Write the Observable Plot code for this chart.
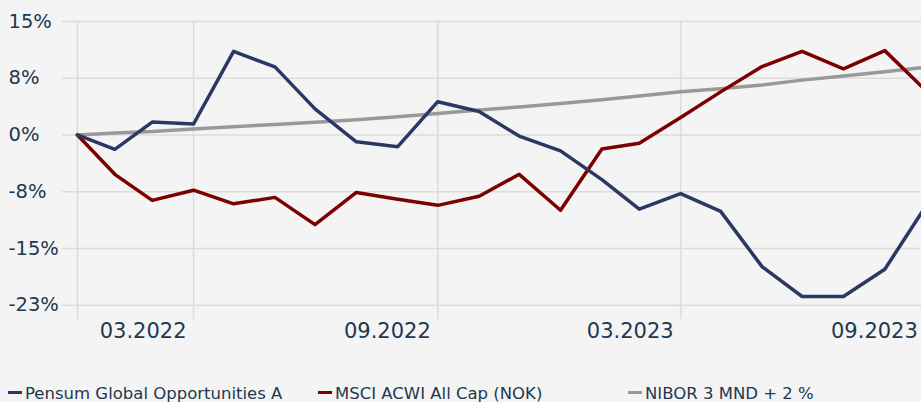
<!DOCTYPE html>
<html>
<head>
<meta charset="utf-8">
<script src="https://cdn.jsdelivr.net/npm/d3@7"></script>
<script src="https://cdn.jsdelivr.net/npm/@observablehq/plot@0.6"></script>
<style>
  html, body { margin: 0; padding: 0; background: #f4f4f4; overflow: hidden; }
  #wrap { position: relative; width: 921px; height: 402px; font-family: "DejaVu Sans", sans-serif; color: #22384f; }
  #legend { position: absolute; left: 0; top: 384px; width: 921px; height: 20px; font-size: 16.5px; line-height: 20px; }
  .item { position: absolute; top: 0; white-space: nowrap; }
  .sw { position: absolute; left: 0; top: 7px; width: 14px; height: 3px; }
  .lbl { position: absolute; left: 17px; top: 0; }
</style>
</head>
<body>
<div id="wrap">
  <div id="chart"></div>
  <div id="legend"></div>
</div>
<script>
const dates = ["2022-01-03","2022-01-31","2022-02-28","2022-03-31","2022-04-30","2022-05-31","2022-06-30","2022-07-31","2022-08-31","2022-09-30","2022-10-31","2022-11-30","2022-12-31","2023-01-31","2023-02-28","2023-03-31","2023-04-30","2023-05-31","2023-06-30","2023-07-31","2023-08-31","2023-09-30"];
const pensum = [0, -1.9, 1.7, 1.45, 11.05, 9.0, 3.45, -0.9, -1.55, 4.4, 3.1, -0.15, -2.1, -5.9, -9.8, -7.75, -10.1, -17.4, -21.35, -21.35, -17.75, -9.6];
const msci = [0, -5.2, -8.65, -7.3, -9.1, -8.25, -11.85, -7.6, -8.5, -9.3, -8.1, -5.2, -9.95, -1.85, -1.1, 2.3, 5.7, 9.05, 11.05, 8.75, 11.15, 6.0];
const nibor = [0, 0.25, 0.45, 0.8, 1.1, 1.4, 1.68, 2.0, 2.4, 2.85, 3.3, 3.7, 4.15, 4.65, 5.15, 5.7, 6.1, 6.6, 7.25, 7.8, 8.35, 8.95];

const seriesNames = ["Pensum Global Opportunities A", "MSCI ACWI All Cap (NOK)", "NIBOR 3 MND + 2 %"];
const seriesColors = ["#2b3864", "#7d0000", "#999999"];

const yTicks = [15, 7.5, 0, -7.5, -15, -22.5];
const yTickLabels = ["15%", "8%", "0%", "-8%", "-15%", "-23%"];
const xTicks = ["2022-03-31", "2022-09-30", "2023-03-31", "2023-09-30"];
const xTickLabels = ["03.2022", "09.2022", "03.2023", "09.2023"];

const parse = s => new Date(s + "T00:00:00Z");
const mk = vals => dates.map((d, i) => ({date: parse(d), value: vals[i]}));
const rowsP = mk(pensum), rowsM = mk(msci), rowsN = mk(nibor);
const xTickRows = xTicks.map((d, i) => ({date: parse(d), label: xTickLabels[i]}));
const yTickRows = yTicks.map((v, i) => ({v, label: yTickLabels[i]}));

const grid = "#dcdcdc";
const textColor = "#22384f";

const chart = Plot.plot({
  width: 921,
  height: 345,
  marginLeft: 62,
  marginRight: 0,
  marginTop: 21,
  marginBottom: 26,
  style: {background: "#f4f4f4", fontFamily: "DejaVu Sans, sans-serif", color: textColor, overflow: "hidden"},
  x: {type: "utc", domain: [new Date("2021-12-22T19:00:00Z"), new Date("2023-09-27T12:00:00Z")], axis: null},
  y: {domain: [-24.39, 15], axis: null},
  marks: [
    Plot.ruleY(yTicks, {stroke: grid, strokeWidth: 1.6}),
    Plot.ruleX([parse(dates[0]), ...xTickRows.map(d => d.date)], {stroke: grid, strokeWidth: 1.6}),
    Plot.line(rowsN, {x: "date", y: "value", stroke: seriesColors[2], strokeWidth: 3.5, clip: true}),
    Plot.line(rowsM, {x: "date", y: "value", stroke: seriesColors[1], strokeWidth: 3.5, clip: true}),
    Plot.line(rowsP, {x: "date", y: "value", stroke: seriesColors[0], strokeWidth: 3.5, clip: true}),
    Plot.text(yTickRows, {y: "v", text: "label", frameAnchor: "left", textAnchor: "start", dx: -54, fontSize: 19.5, fill: textColor}),
    Plot.text(xTickRows, {x: "date", text: "label", frameAnchor: "bottom", textAnchor: "end", lineAnchor: "bottom", dx: -7, dy: 18, fontSize: 21, fill: textColor})
  ]
});
document.getElementById("chart").appendChild(chart);

const legend = document.getElementById("legend");
seriesNames.forEach((name, i) => {
  const item = document.createElement("div");
  item.className = "item";
  item.style.left = (8 + i * 310) + "px";
  const sw = document.createElement("div");
  sw.className = "sw";
  sw.style.background = seriesColors[i];
  const lbl = document.createElement("div");
  lbl.className = "lbl";
  lbl.textContent = name;
  item.appendChild(sw);
  item.appendChild(lbl);
  legend.appendChild(item);
});
</script>
</body>
</html>
